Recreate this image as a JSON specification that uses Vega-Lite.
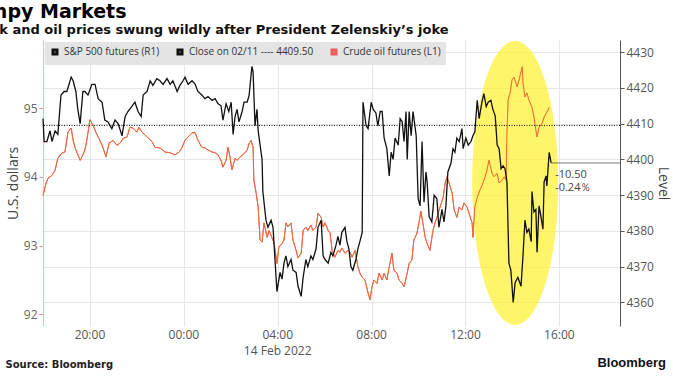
{
  "$schema": "https://vega.github.io/schema/vega-lite/v6.json",
  "width": 577,
  "height": 286,
  "autosize": "none",
  "padding": {"left": 43, "top": 40, "right": 53, "bottom": 51},
  "background": "white",
  "config": {"view": {"stroke": null}},
  "title": {
    "text": "Jumpy Markets",
    "subtitle": "Stock and oil prices swung wildly after President Zelenskiy’s joke",
    "anchor": "start",
    "dx": -38,
    "offset": 3,
    "font": "DejaVu Sans",
    "fontSize": 19,
    "fontWeight": "bold",
    "color": "#000000",
    "subtitleFont": "DejaVu Sans",
    "subtitleFontSize": 13,
    "subtitleFontWeight": "bold",
    "subtitleColor": "#111111",
    "subtitlePadding": 2
  },
  "datasets": {
    "oil": [
      {"t":"2022-02-13T18:00","v":93.73},{"t":"2022-02-13T18:08","v":93.91},{"t":"2022-02-13T18:13","v":93.98},{"t":"2022-02-13T18:23","v":94.02},
      {"t":"2022-02-13T18:31","v":94.10},{"t":"2022-02-13T18:38","v":94.27},{"t":"2022-02-13T18:49","v":94.35},{"t":"2022-02-13T18:56","v":94.36},
      {"t":"2022-02-13T19:04","v":94.65},{"t":"2022-02-13T19:12","v":94.71},{"t":"2022-02-13T19:17","v":94.53},{"t":"2022-02-13T19:22","v":94.42},
      {"t":"2022-02-13T19:27","v":94.35},{"t":"2022-02-13T19:35","v":94.24},{"t":"2022-02-13T19:42","v":94.32},{"t":"2022-02-13T19:47","v":94.39},
      {"t":"2022-02-13T19:52","v":94.53},{"t":"2022-02-13T20:00","v":94.83},{"t":"2022-02-13T20:08","v":94.75},{"t":"2022-02-13T20:15","v":94.65},
      {"t":"2022-02-13T20:23","v":94.56},{"t":"2022-02-13T20:33","v":94.43},{"t":"2022-02-13T20:41","v":94.29},{"t":"2022-02-13T20:49","v":94.49},
      {"t":"2022-02-13T20:59","v":94.53},{"t":"2022-02-13T21:09","v":94.46},{"t":"2022-02-13T21:17","v":94.49},{"t":"2022-02-13T21:25","v":94.56},
      {"t":"2022-02-13T21:35","v":94.58},{"t":"2022-02-13T21:42","v":94.72},{"t":"2022-02-13T21:50","v":94.71},{"t":"2022-02-13T22:00","v":94.65},
      {"t":"2022-02-13T22:05","v":94.72},{"t":"2022-02-13T22:13","v":94.65},{"t":"2022-02-13T22:26","v":94.58},{"t":"2022-02-13T22:39","v":94.51},
      {"t":"2022-02-13T22:46","v":94.43},{"t":"2022-02-13T22:59","v":94.42},{"t":"2022-02-13T23:12","v":94.36},{"t":"2022-02-13T23:25","v":94.35},
      {"t":"2022-02-13T23:37","v":94.32},{"t":"2022-02-13T23:48","v":94.36},{"t":"2022-02-13T23:55","v":94.42},{"t":"2022-02-14T00:03","v":94.53},
      {"t":"2022-02-14T00:11","v":94.58},{"t":"2022-02-14T00:21","v":94.64},{"t":"2022-02-14T00:29","v":94.64},{"t":"2022-02-14T00:36","v":94.53},
      {"t":"2022-02-14T00:46","v":94.43},{"t":"2022-02-14T00:54","v":94.42},{"t":"2022-02-14T01:02","v":94.39},{"t":"2022-02-14T01:12","v":94.36},
      {"t":"2022-02-14T01:20","v":94.35},{"t":"2022-02-14T01:27","v":94.32},{"t":"2022-02-14T01:35","v":94.24},{"t":"2022-02-14T01:40","v":94.14},
      {"t":"2022-02-14T01:48","v":94.24},{"t":"2022-02-14T01:53","v":94.43},{"t":"2022-02-14T01:58","v":94.29},{"t":"2022-02-14T02:03","v":94.10},
      {"t":"2022-02-14T02:11","v":94.27},{"t":"2022-02-14T02:16","v":94.24},{"t":"2022-02-14T02:24","v":94.29},{"t":"2022-02-14T02:31","v":94.32},
      {"t":"2022-02-14T02:36","v":94.35},{"t":"2022-02-14T02:42","v":94.39},{"t":"2022-02-14T02:47","v":94.49},{"t":"2022-02-14T02:52","v":94.53},
      {"t":"2022-02-14T02:57","v":94.43},{"t":"2022-02-14T02:59","v":93.95},{"t":"2022-02-14T03:05","v":93.76},{"t":"2022-02-14T03:10","v":93.56},
      {"t":"2022-02-14T03:15","v":93.08},{"t":"2022-02-14T03:20","v":93.05},{"t":"2022-02-14T03:25","v":93.33},{"t":"2022-02-14T03:33","v":93.12},
      {"t":"2022-02-14T03:38","v":93.22},{"t":"2022-02-14T03:45","v":93.12},{"t":"2022-02-14T03:51","v":93.03},{"t":"2022-02-14T03:58","v":92.74},
      {"t":"2022-02-14T04:03","v":92.98},{"t":"2022-02-14T04:11","v":93.03},{"t":"2022-02-14T04:16","v":93.08},{"t":"2022-02-14T04:21","v":93.33},
      {"t":"2022-02-14T04:26","v":93.27},{"t":"2022-02-14T04:34","v":93.33},{"t":"2022-02-14T04:39","v":93.08},{"t":"2022-02-14T04:47","v":92.93},
      {"t":"2022-02-14T04:52","v":92.82},{"t":"2022-02-14T05:00","v":92.89},{"t":"2022-02-14T05:05","v":93.22},{"t":"2022-02-14T05:12","v":93.27},
      {"t":"2022-02-14T05:17","v":93.22},{"t":"2022-02-14T05:25","v":93.30},{"t":"2022-02-14T05:30","v":93.22},{"t":"2022-02-14T05:38","v":93.27},
      {"t":"2022-02-14T05:43","v":93.47},{"t":"2022-02-14T05:51","v":93.41},{"t":"2022-02-14T05:56","v":93.27},{"t":"2022-02-14T06:01","v":93.33},
      {"t":"2022-02-14T06:09","v":93.22},{"t":"2022-02-14T06:14","v":93.18},{"t":"2022-02-14T06:19","v":92.93},{"t":"2022-02-14T06:26","v":92.83},
      {"t":"2022-02-14T06:34","v":92.93},{"t":"2022-02-14T06:39","v":92.90},{"t":"2022-02-14T06:44","v":92.96},{"t":"2022-02-14T06:52","v":92.89},
      {"t":"2022-02-14T07:00","v":92.93},{"t":"2022-02-14T07:05","v":92.90},{"t":"2022-02-14T07:10","v":92.83},{"t":"2022-02-14T07:18","v":92.93},
      {"t":"2022-02-14T07:25","v":92.69},{"t":"2022-02-14T07:30","v":92.60},{"t":"2022-02-14T07:36","v":92.54},{"t":"2022-02-14T07:43","v":92.50},
      {"t":"2022-02-14T07:51","v":92.31},{"t":"2022-02-14T07:56","v":92.21},{"t":"2022-02-14T08:01","v":92.40},{"t":"2022-02-14T08:06","v":92.50},
      {"t":"2022-02-14T08:14","v":92.45},{"t":"2022-02-14T08:19","v":92.60},{"t":"2022-02-14T08:27","v":92.50},{"t":"2022-02-14T08:32","v":92.60},
      {"t":"2022-02-14T08:39","v":92.50},{"t":"2022-02-14T08:45","v":92.69},{"t":"2022-02-14T08:52","v":92.89},{"t":"2022-02-14T08:57","v":92.64},
      {"t":"2022-02-14T09:05","v":92.60},{"t":"2022-02-14T09:10","v":92.50},{"t":"2022-02-14T09:18","v":92.45},{"t":"2022-02-14T09:23","v":92.40},
      {"t":"2022-02-14T09:31","v":92.60},{"t":"2022-02-14T09:36","v":92.74},{"t":"2022-02-14T09:43","v":92.79},{"t":"2022-02-14T09:48","v":93.08},
      {"t":"2022-02-14T09:56","v":93.18},{"t":"2022-02-14T10:01","v":93.33},{"t":"2022-02-14T10:06","v":93.50},{"t":"2022-02-14T10:11","v":93.33},
      {"t":"2022-02-14T10:17","v":93.12},{"t":"2022-02-14T10:22","v":93.03},{"t":"2022-02-14T10:29","v":92.93},{"t":"2022-02-14T10:37","v":93.22},
      {"t":"2022-02-14T10:42","v":93.33},{"t":"2022-02-14T10:47","v":93.41},{"t":"2022-02-14T10:55","v":93.56},{"t":"2022-02-14T11:03","v":93.70},
      {"t":"2022-02-14T11:08","v":93.91},{"t":"2022-02-14T11:13","v":94.00},{"t":"2022-02-14T11:18","v":93.91},{"t":"2022-02-14T11:26","v":93.76},
      {"t":"2022-02-14T11:31","v":93.52},{"t":"2022-02-14T11:38","v":93.41},{"t":"2022-02-14T11:44","v":93.56},{"t":"2022-02-14T11:51","v":93.52},
      {"t":"2022-02-14T11:56","v":93.62},{"t":"2022-02-14T12:04","v":93.56},{"t":"2022-02-14T12:09","v":93.47},{"t":"2022-02-14T12:17","v":93.33},
      {"t":"2022-02-14T12:19","v":93.12},{"t":"2022-02-14T12:24","v":93.56},{"t":"2022-02-14T12:30","v":93.70},{"t":"2022-02-14T12:37","v":93.81},
      {"t":"2022-02-14T12:45","v":93.91},{"t":"2022-02-14T12:50","v":94.00},{"t":"2022-02-14T12:55","v":94.10},{"t":"2022-02-14T13:00","v":94.24},
      {"t":"2022-02-14T13:08","v":94.05},{"t":"2022-02-14T13:13","v":94.00},{"t":"2022-02-14T13:21","v":94.05},{"t":"2022-02-14T13:26","v":93.91},
      {"t":"2022-02-14T13:33","v":93.95},{"t":"2022-02-14T13:39","v":94.00},{"t":"2022-02-14T13:44","v":93.95},{"t":"2022-02-14T13:46","v":94.64},
      {"t":"2022-02-14T13:49","v":95.12},{"t":"2022-02-14T13:54","v":95.22},{"t":"2022-02-14T13:59","v":95.41},{"t":"2022-02-14T14:04","v":95.45},
      {"t":"2022-02-14T14:12","v":95.31},{"t":"2022-02-14T14:17","v":95.41},{"t":"2022-02-14T14:25","v":95.60},{"t":"2022-02-14T14:27","v":95.36},
      {"t":"2022-02-14T14:32","v":95.16},{"t":"2022-02-14T14:37","v":95.22},{"t":"2022-02-14T14:42","v":95.12},{"t":"2022-02-14T14:50","v":95.01},
      {"t":"2022-02-14T14:55","v":94.87},{"t":"2022-02-14T15:00","v":94.68},{"t":"2022-02-14T15:03","v":94.58},{"t":"2022-02-14T15:08","v":94.72},
      {"t":"2022-02-14T15:16","v":94.78},{"t":"2022-02-14T15:21","v":94.87},{"t":"2022-02-14T15:28","v":94.94},{"t":"2022-02-14T15:34","v":95.01}
    ],
    "spx": [
      {"t":"2022-02-13T18:00","v":4411.4},{"t":"2022-02-13T18:03","v":4405},{"t":"2022-02-13T18:10","v":4405},{"t":"2022-02-13T18:18","v":4408},
      {"t":"2022-02-13T18:23","v":4405},{"t":"2022-02-13T18:31","v":4408},{"t":"2022-02-13T18:38","v":4407},{"t":"2022-02-13T18:46","v":4418},
      {"t":"2022-02-13T18:54","v":4419},{"t":"2022-02-13T19:01","v":4419},{"t":"2022-02-13T19:12","v":4423},{"t":"2022-02-13T19:17","v":4422},
      {"t":"2022-02-13T19:24","v":4419},{"t":"2022-02-13T19:29","v":4414},{"t":"2022-02-13T19:35","v":4410},{"t":"2022-02-13T19:42","v":4419},
      {"t":"2022-02-13T19:47","v":4419},{"t":"2022-02-13T19:55","v":4418},{"t":"2022-02-13T20:05","v":4421},{"t":"2022-02-13T20:13","v":4421},
      {"t":"2022-02-13T20:21","v":4417},{"t":"2022-02-13T20:31","v":4416},{"t":"2022-02-13T20:38","v":4411},{"t":"2022-02-13T20:46","v":4410.5},
      {"t":"2022-02-13T20:56","v":4408.6},{"t":"2022-02-13T21:04","v":4411},{"t":"2022-02-13T21:12","v":4410},{"t":"2022-02-13T21:22","v":4406.6},
      {"t":"2022-02-13T21:30","v":4412},{"t":"2022-02-13T21:37","v":4413.4},{"t":"2022-02-13T21:48","v":4415},{"t":"2022-02-13T21:55","v":4416},
      {"t":"2022-02-13T22:03","v":4413.4},{"t":"2022-02-13T22:11","v":4412},{"t":"2022-02-13T22:16","v":4418},{"t":"2022-02-13T22:26","v":4419},
      {"t":"2022-02-13T22:34","v":4422},{"t":"2022-02-13T22:41","v":4420.7},{"t":"2022-02-13T22:51","v":4422.6},{"t":"2022-02-13T22:59","v":4422},
      {"t":"2022-02-13T23:07","v":4421},{"t":"2022-02-13T23:17","v":4422.6},{"t":"2022-02-13T23:25","v":4421},{"t":"2022-02-13T23:32","v":4422},
      {"t":"2022-02-13T23:43","v":4419},{"t":"2022-02-13T23:50","v":4420.7},{"t":"2022-02-13T23:58","v":4422},{"t":"2022-02-14T00:03","v":4423},
      {"t":"2022-02-14T00:11","v":4421},{"t":"2022-02-14T00:21","v":4422},{"t":"2022-02-14T00:29","v":4421},{"t":"2022-02-14T00:36","v":4419},
      {"t":"2022-02-14T00:46","v":4418},{"t":"2022-02-14T00:54","v":4417},{"t":"2022-02-14T01:02","v":4417.6},{"t":"2022-02-14T01:12","v":4416.5},
      {"t":"2022-02-14T01:20","v":4417},{"t":"2022-02-14T01:27","v":4415.6},{"t":"2022-02-14T01:35","v":4415},{"t":"2022-02-14T01:40","v":4411},
      {"t":"2022-02-14T01:48","v":4415.6},{"t":"2022-02-14T01:55","v":4413.4},{"t":"2022-02-14T02:01","v":4416},{"t":"2022-02-14T02:06","v":4407},
      {"t":"2022-02-14T02:11","v":4412},{"t":"2022-02-14T02:16","v":4414},{"t":"2022-02-14T02:21","v":4410.5},{"t":"2022-02-14T02:29","v":4413.4},
      {"t":"2022-02-14T02:34","v":4416},{"t":"2022-02-14T02:42","v":4416},{"t":"2022-02-14T02:47","v":4418},{"t":"2022-02-14T02:54","v":4426},
      {"t":"2022-02-14T02:57","v":4424.6},{"t":"2022-02-14T03:02","v":4409.4},{"t":"2022-02-14T03:07","v":4414},{"t":"2022-02-14T03:10","v":4408},
      {"t":"2022-02-14T03:20","v":4400},{"t":"2022-02-14T03:22","v":4391},{"t":"2022-02-14T03:30","v":4383},{"t":"2022-02-14T03:35","v":4381},
      {"t":"2022-02-14T03:43","v":4383},{"t":"2022-02-14T03:48","v":4381},{"t":"2022-02-14T03:53","v":4372},{"t":"2022-02-14T03:58","v":4363},
      {"t":"2022-02-14T04:06","v":4368.4},{"t":"2022-02-14T04:11","v":4366.5},{"t":"2022-02-14T04:16","v":4371},{"t":"2022-02-14T04:21","v":4373},
      {"t":"2022-02-14T04:26","v":4370},{"t":"2022-02-14T04:34","v":4372},{"t":"2022-02-14T04:39","v":4369},{"t":"2022-02-14T04:47","v":4368.4},
      {"t":"2022-02-14T04:52","v":4364.5},{"t":"2022-02-14T05:00","v":4361.7},{"t":"2022-02-14T05:05","v":4367},{"t":"2022-02-14T05:12","v":4372},
      {"t":"2022-02-14T05:17","v":4370},{"t":"2022-02-14T05:25","v":4373},{"t":"2022-02-14T05:30","v":4372},{"t":"2022-02-14T05:38","v":4375},
      {"t":"2022-02-14T05:43","v":4381},{"t":"2022-02-14T05:51","v":4383},{"t":"2022-02-14T05:56","v":4373},{"t":"2022-02-14T06:01","v":4372},
      {"t":"2022-02-14T06:09","v":4371},{"t":"2022-02-14T06:16","v":4374},{"t":"2022-02-14T06:21","v":4373},{"t":"2022-02-14T06:29","v":4376},
      {"t":"2022-02-14T06:34","v":4378.5},{"t":"2022-02-14T06:39","v":4376},{"t":"2022-02-14T06:44","v":4379.6},{"t":"2022-02-14T06:52","v":4381},
      {"t":"2022-02-14T06:57","v":4377},{"t":"2022-02-14T07:02","v":4375},{"t":"2022-02-14T07:07","v":4370},{"t":"2022-02-14T07:12","v":4369},
      {"t":"2022-02-14T07:20","v":4372},{"t":"2022-02-14T07:25","v":4375},{"t":"2022-02-14T07:30","v":4377},{"t":"2022-02-14T07:36","v":4379.6},
      {"t":"2022-02-14T07:38","v":4416},{"t":"2022-02-14T07:46","v":4409.4},{"t":"2022-02-14T07:51","v":4408.6},{"t":"2022-02-14T07:59","v":4416},
      {"t":"2022-02-14T08:04","v":4414},{"t":"2022-02-14T08:11","v":4413},{"t":"2022-02-14T08:16","v":4409.4},{"t":"2022-02-14T08:22","v":4413.4},
      {"t":"2022-02-14T08:27","v":4413.4},{"t":"2022-02-14T08:32","v":4406},{"t":"2022-02-14T08:39","v":4403},{"t":"2022-02-14T08:45","v":4395.4},
      {"t":"2022-02-14T08:50","v":4402},{"t":"2022-02-14T08:55","v":4400},{"t":"2022-02-14T09:00","v":4406},{"t":"2022-02-14T09:08","v":4404},
      {"t":"2022-02-14T09:13","v":4411.4},{"t":"2022-02-14T09:18","v":4410.6},{"t":"2022-02-14T09:23","v":4405},{"t":"2022-02-14T09:28","v":4413.4},
      {"t":"2022-02-14T09:31","v":4400},{"t":"2022-02-14T09:36","v":4413.4},{"t":"2022-02-14T09:41","v":4406.6},{"t":"2022-02-14T09:46","v":4413.4},
      {"t":"2022-02-14T09:54","v":4406.6},{"t":"2022-02-14T09:59","v":4389},{"t":"2022-02-14T10:04","v":4387},{"t":"2022-02-14T10:09","v":4405},
      {"t":"2022-02-14T10:14","v":4388},{"t":"2022-02-14T10:19","v":4396.5},{"t":"2022-02-14T10:22","v":4393.7},{"t":"2022-02-14T10:27","v":4384},
      {"t":"2022-02-14T10:34","v":4382.5},{"t":"2022-02-14T10:40","v":4390},{"t":"2022-02-14T10:47","v":4389},{"t":"2022-02-14T10:52","v":4381},
      {"t":"2022-02-14T11:00","v":4386},{"t":"2022-02-14T11:05","v":4382.5},{"t":"2022-02-14T11:10","v":4387},{"t":"2022-02-14T11:15","v":4396.5},
      {"t":"2022-02-14T11:23","v":4399},{"t":"2022-02-14T11:28","v":4403},{"t":"2022-02-14T11:33","v":4402},{"t":"2022-02-14T11:38","v":4406},
      {"t":"2022-02-14T11:44","v":4405},{"t":"2022-02-14T11:51","v":4408.6},{"t":"2022-02-14T11:54","v":4403},{"t":"2022-02-14T12:01","v":4406},
      {"t":"2022-02-14T12:07","v":4404},{"t":"2022-02-14T12:14","v":4405},{"t":"2022-02-14T12:19","v":4406.6},{"t":"2022-02-14T12:24","v":4407.7},
      {"t":"2022-02-14T12:30","v":4416.5},{"t":"2022-02-14T12:35","v":4411.4},{"t":"2022-02-14T12:42","v":4416},{"t":"2022-02-14T12:47","v":4418.4},
      {"t":"2022-02-14T12:53","v":4414.8},{"t":"2022-02-14T12:58","v":4416},{"t":"2022-02-14T13:05","v":4416.5},{"t":"2022-02-14T13:10","v":4414},
      {"t":"2022-02-14T13:16","v":4412.2},{"t":"2022-02-14T13:21","v":4404},{"t":"2022-02-14T13:26","v":4403},{"t":"2022-02-14T13:31","v":4397.4},
      {"t":"2022-02-14T13:36","v":4398.2},{"t":"2022-02-14T13:41","v":4397.4},{"t":"2022-02-14T13:46","v":4393.7},{"t":"2022-02-14T13:51","v":4371},
      {"t":"2022-02-14T13:56","v":4369},{"t":"2022-02-14T14:02","v":4360},{"t":"2022-02-14T14:07","v":4365.6},{"t":"2022-02-14T14:14","v":4367},
      {"t":"2022-02-14T14:22","v":4364.5},{"t":"2022-02-14T14:27","v":4373},{"t":"2022-02-14T14:32","v":4383},{"t":"2022-02-14T14:37","v":4379.6},
      {"t":"2022-02-14T14:42","v":4380.5},{"t":"2022-02-14T14:48","v":4377},{"t":"2022-02-14T14:50","v":4391},{"t":"2022-02-14T14:55","v":4385.3},
      {"t":"2022-02-14T15:00","v":4386},{"t":"2022-02-14T15:03","v":4374},{"t":"2022-02-14T15:08","v":4387},{"t":"2022-02-14T15:13","v":4384},
      {"t":"2022-02-14T15:18","v":4380.5},{"t":"2022-02-14T15:21","v":4393.7},{"t":"2022-02-14T15:26","v":4395.4},{"t":"2022-02-14T15:28","v":4392.6},
      {"t":"2022-02-14T15:34","v":4402},{"t":"2022-02-14T15:39","v":4399}
    ],
    "lastline": [
      {"t":"2022-02-14T15:39","v":4399},{"t":"2022-02-14T18:35","v":4399}
    ],
    "change": [
      {"t":"2022-02-14T15:39","v":4399,"label":"-10.50"}
    ],
    "pct": [
      {"t":"2022-02-14T15:39","v":4399,"label":"-0.24％"}
    ],
    "highlight": [
      {"t":"2022-02-14T14:07","v":4393.4}
    ],
    "ticklabels": [
      {"t":"2022-02-13T20:00","label":"20:00"},{"t":"2022-02-14T00:00","label":"00:00"},{"t":"2022-02-14T04:00","label":"04:00"},
      {"t":"2022-02-14T08:00","label":"08:00"},{"t":"2022-02-14T12:00","label":"12:00"},{"t":"2022-02-14T16:00","label":"16:00"}
    ],
    "datelabel": [
      {"t":"2022-02-14T04:00","label":"14 Feb 2022"}
    ],
    "footer": [
      {"t":"2022-02-14T18:35","label":"Bloomberg"}
    ]
  },
  "resolve": {"scale": {"y": "independent"}},
  "layer": [
    {
      "data": {"name": "oil"},
      "mark": {"type": "line", "stroke": "#ee5a5a", "strokeWidth": 1},
      "encoding": {
        "x": {
          "field": "t", "type": "temporal",
          "scale": {"domain": [{"year": 2022, "month": 2, "date": 13, "hours": 18, "minutes": 0}, {"year": 2022, "month": 2, "date": 14, "hours": 18, "minutes": 35}]},
          "axis": {
            "title": "Source: Bloomberg",
            "titleAnchor": "start", "titleAlign": "left", "titleX": -38, "titleY": 33, "titleBaseline": "top",
            "titleFont": "DejaVu Sans", "titleFontSize": 10, "titleFontWeight": "bold", "titleColor": "#222222",
            "values": [
              {"year": 2022, "month": 2, "date": 13, "hours": 20},
              {"year": 2022, "month": 2, "date": 14, "hours": 0},
              {"year": 2022, "month": 2, "date": 14, "hours": 4},
              {"year": 2022, "month": 2, "date": 14, "hours": 8},
              {"year": 2022, "month": 2, "date": 14, "hours": 12},
              {"year": 2022, "month": 2, "date": 14, "hours": 16}
            ],
            "labels": false,
            "domain": false, "ticks": false,
            "grid": true, "gridColor": "#e6e6e6", "gridWidth": 1
          }
        },
        "y": {
          "field": "v", "type": "quantitative",
          "scale": {"domain": [91.83, 95.99], "nice": false, "zero": false},
          "axis": {
            "orient": "left", "title": "U.S. dollars",
            "values": [92, 93, 94, 95],
            "format": "d",
            "labelFont": "Open Sans", "labelFontSize": 12, "labelColor": "#666666", "labelPadding": 2,
            "tickSize": 4, "tickColor": "#f08a8a", "domainColor": "#f5b8b8",
            "grid": false,
            "titleFont": "Open Sans", "titleFontSize": 14, "titleFontWeight": "normal", "titleColor": "#444444",
            "titlePadding": 3
          }
        },
        "color": {
          "datum": "Crude oil futures (L1)", "type": "nominal",
          "scale": {
            "domain": ["S&P 500 futures (R1)", "Close on 02/11 ---- 4409.50", "Crude oil futures (L1)"],
            "range": ["#111111", "#111111", "#ee5a5a"]
          },
          "legend": {
            "orient": "top-left", "direction": "horizontal", "title": null,
            "fillColor": "#e4e4e4", "padding": 5, "offset": 2,
            "labelFont": "Open Sans", "labelFontSize": 10, "labelColor": "#333333",
            "symbolType": "square", "symbolSize": 16, "symbolStrokeWidth": 3, "columnPadding": 12, "labelOffset": 4
          }
        }
      }
    },
    {
      "data": {"name": "highlight"},
      "mark": {
        "type": "point", "filled": true, "fill": "#fff13a", "opacity": 0.75, "strokeWidth": 0,
        "shape": "M 0 -3.3 C 0.5523 -3.3 1 -1.8226 1 0 C 1 1.8226 0.5523 3.3 0 3.3 C -0.5523 3.3 -1 1.8226 -1 0 C -1 -1.8226 -0.5523 -3.3 0 -3.3 Z",
        "size": 7396
      },
      "encoding": {
        "x": {"field": "t", "type": "temporal"},
        "y": {"field": "v", "type": "quantitative", "scale": {"domain": [4353.4, 4433.4], "nice": false, "zero": false}, "axis": null}
      }
    },
    {
      "data": {"name": "oil"},
      "mark": {"type": "line", "stroke": "#ee6a3a", "strokeWidth": 1},
      "encoding": {
        "x": {"field": "t", "type": "temporal"},
        "y": {"field": "v", "type": "quantitative", "scale": {"domain": [91.83, 95.99], "nice": false, "zero": false}, "axis": null}
      }
    },
    {
      "data": {"name": "spx"},
      "mark": {"type": "line", "stroke": "#111111", "strokeWidth": 1.3},
      "encoding": {
        "x": {"field": "t", "type": "temporal"},
        "y": {
          "field": "v", "type": "quantitative",
          "scale": {"domain": [4353.4, 4433.4], "nice": false, "zero": false},
          "axis": {
            "orient": "right", "title": "Level",
            "values": [4360, 4370, 4380, 4390, 4400, 4410, 4420, 4430],
            "format": "d",
            "labelFont": "Open Sans", "labelFontSize": 12, "labelColor": "#555555", "labelPadding": 2,
            "tickSize": 4, "tickColor": "#555555", "domainColor": "#555555",
            "grid": true, "gridColor": "#e6e6e6",
            "titleFont": "Open Sans", "titleFontSize": 14, "titleFontWeight": "normal", "titleColor": "#444444",
            "titlePadding": 2
          }
        },
        "color": {"datum": "S&P 500 futures (R1)", "type": "nominal"}
      }
    },
    {
      "data": {"name": "change"},
      "mark": {"type": "rule", "strokeDash": [1, 1.5], "strokeWidth": 1},
      "encoding": {
        "y": {"datum": 4409.5, "type": "quantitative", "scale": {"domain": [4353.4, 4433.4], "nice": false, "zero": false}, "axis": null},
        "color": {"datum": "Close on 02/11 ---- 4409.50", "type": "nominal"}
      }
    },
    {
      "data": {"name": "lastline"},
      "mark": {"type": "line", "stroke": "#555555", "strokeWidth": 0.8},
      "encoding": {
        "x": {"field": "t", "type": "temporal"},
        "y": {"field": "v", "type": "quantitative", "scale": {"domain": [4353.4, 4433.4], "nice": false, "zero": false}, "axis": null}
      }
    },
    {
      "data": {"name": "change"},
      "mark": {"type": "text", "align": "left", "baseline": "middle", "dx": 4, "dy": 12, "font": "Open Sans", "fontSize": 11, "color": "#444444"},
      "encoding": {
        "x": {"field": "t", "type": "temporal"},
        "y": {"field": "v", "type": "quantitative", "scale": {"domain": [4353.4, 4433.4], "nice": false, "zero": false}, "axis": null},
        "text": {"field": "label"}
      }
    },
    {
      "data": {"name": "pct"},
      "mark": {"type": "text", "align": "left", "baseline": "middle", "dx": 4, "dy": 25, "font": "Open Sans", "fontSize": 11, "color": "#444444"},
      "encoding": {
        "x": {"field": "t", "type": "temporal"},
        "y": {"field": "v", "type": "quantitative", "scale": {"domain": [4353.4, 4433.4], "nice": false, "zero": false}, "axis": null},
        "text": {"field": "label"}
      }
    },
    {
      "data": {"name": "ticklabels"},
      "mark": {"type": "text", "align": "center", "baseline": "middle", "font": "Open Sans", "fontSize": 12, "color": "#555555"},
      "encoding": {
        "x": {"field": "t", "type": "temporal"},
        "y": {"datum": 4350.9, "type": "quantitative", "scale": {"domain": [4353.4, 4433.4], "nice": false, "zero": false}, "axis": null},
        "text": {"field": "label"}
      }
    },
    {
      "data": {"name": "datelabel"},
      "mark": {"type": "text", "align": "center", "baseline": "middle", "font": "Open Sans", "fontSize": 12, "color": "#555555"},
      "encoding": {
        "x": {"field": "t", "type": "temporal"},
        "y": {"datum": 4346.4, "type": "quantitative", "scale": {"domain": [4353.4, 4433.4], "nice": false, "zero": false}, "axis": null},
        "text": {"field": "label"}
      }
    },
    {
      "data": {"name": "footer"},
      "mark": {"type": "text", "align": "right", "baseline": "middle", "dx": 46, "font": "Liberation Sans", "fontSize": 13, "fontWeight": "bold", "color": "#111111"},
      "encoding": {
        "x": {"field": "t", "type": "temporal"},
        "y": {"datum": 4343, "type": "quantitative", "scale": {"domain": [4353.4, 4433.4], "nice": false, "zero": false}, "axis": null},
        "text": {"field": "label"}
      }
    }
  ]
}
